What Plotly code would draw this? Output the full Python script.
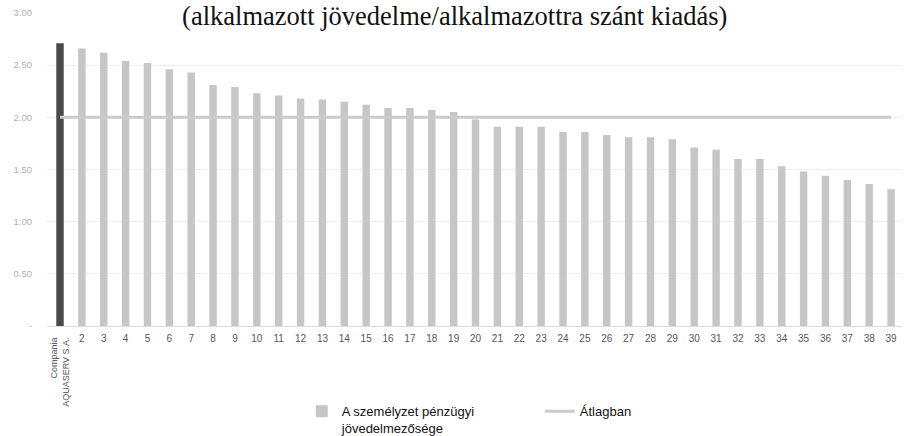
import plotly.graph_objects as go

title_text = "(alkalmazott jövedelme/alkalmazottra szánt kiadás)"
first_label = "Compania<br>AQUASERV S.A."
categories = ["Compania AQUASERV S.A."] + [str(i) for i in range(2, 40)]
values = [2.71, 2.66, 2.62, 2.54, 2.52, 2.46, 2.43, 2.31, 2.29, 2.23,
          2.21, 2.18, 2.17, 2.15, 2.12, 2.09, 2.09, 2.07, 2.05, 1.98,
          1.91, 1.91, 1.91, 1.86, 1.86, 1.83, 1.81, 1.81, 1.79, 1.71,
          1.69, 1.60, 1.60, 1.53, 1.48, 1.44, 1.40, 1.36, 1.31]
average = [2.00] * len(categories)
y_tickvals = [0, 0.5, 1.0, 1.5, 2.0, 2.5, 3.0]
y_ticktext = ["-", "0.50", "1.00", "1.50", "2.00", "2.50", "3.00"]
bar_name = "A személyzet pénzügyi<br>jövedelmezősége"
line_name = "Átlagban"

fig = go.Figure()
# highlighted company bar (dark)
fig.add_trace(go.Bar(x=categories[:1], y=values[:1], name=bar_name, showlegend=False,
                     marker=dict(color="#4a4a4a", line=dict(width=0))))
# other companies
fig.add_trace(go.Bar(x=categories[1:], y=values[1:], name=bar_name,
                     marker=dict(color="#c6c6c8", line=dict(width=0))))
fig.add_trace(go.Scatter(x=categories, y=average, name=line_name, mode="lines",
                         line=dict(color="#cbcbcb", width=3)))

fig.update_layout(
    width=914, height=436,
    margin=dict(l=47, r=12, t=13, b=110, autoexpand=False),
    paper_bgcolor="white", plot_bgcolor="white",
    barmode="overlay",
    bargap=0.66,
    title=dict(text=title_text, x=0.4975, xref="container", xanchor="center",
               y=0.964, yref="container", yanchor="middle",
               font=dict(family="Liberation Serif", size=26.5, color="#111")),
    showlegend=True,
    legend=dict(orientation="h", x=0.298, xanchor="left", y=-0.225, yanchor="top",
                font=dict(family="Liberation Sans", size=13, color="#111"),
                valign="top", entrywidth=193, itemwidth=30, traceorder="normal",
                bgcolor="rgba(0,0,0,0)"),
    font=dict(family="Liberation Sans"),
)
fig.update_xaxes(type="category", categoryorder="array", categoryarray=categories,
                 tickvals=categories, ticktext=[""] + categories[1:],
                 tickangle=0, tickfont=dict(size=10, color="#555"),
                 showgrid=False, showline=False, zeroline=False,
                 ticks="outside", ticklen=3, tickcolor="rgba(0,0,0,0)")
fig.update_yaxes(range=[0, 3.0], tickvals=y_tickvals, ticktext=y_ticktext,
                 tickfont=dict(size=9.5, color="#b0b0b0"),
                 gridcolor="#efefef", gridwidth=1, zeroline=True,
                 zerolinecolor="#dddddd", zerolinewidth=1, showline=False,
                 ticks="outside", ticklen=12, tickcolor="rgba(0,0,0,0)")
fig.add_annotation(x=categories[0], y=-0.033, xref="x", yref="paper",
                   text=first_label, textangle=-90, showarrow=False, align="right",
                   xanchor="center", yanchor="top",
                   font=dict(size=9, color="#555"))
fig.write_html("out.html", config={"displayModeBar": False},
               post_script="document.body.style.margin='0';document.body.style.padding='0';")
